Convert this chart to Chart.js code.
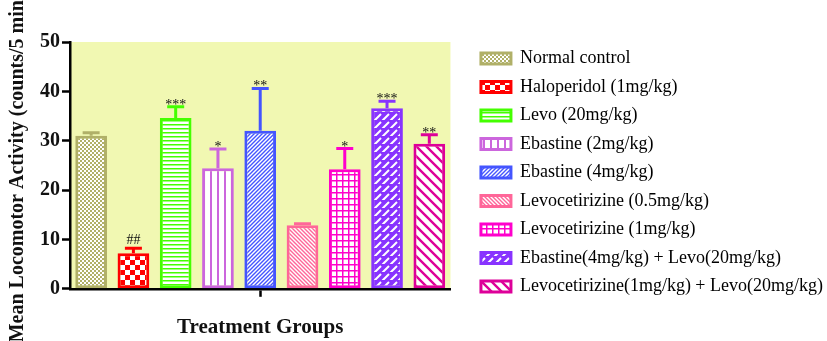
<!DOCTYPE html>
<html><head><meta charset="utf-8">
<script src="https://cdn.jsdelivr.net/npm/chart.js@4/dist/chart.umd.min.js"></script>
<style>html,body{margin:0;padding:0;background:#fff}#wrap{width:827px;height:341px;position:relative}</style>
</head><body><div id="wrap"><canvas id="c"></canvas></div>
<script>
const categories = ["Normal control","Haloperidol (1mg/kg)","Levo (20mg/kg)","Ebastine (2mg/kg)","Ebastine (4mg/kg)","Levocetirizine (0.5mg/kg)","Levocetirizine (1mg/kg)","Ebastine(4mg/kg) + Levo(20mg/kg)","Levocetirizine(1mg/kg) + Levo(20mg/kg)"];
const means = [31.0, 7.2, 34.6, 24.4, 32.0, 12.9, 24.2, 36.6, 29.4];
const sems = [0.6, 1.0, 2.3, 3.9, 8.6, 0.3, 4.2, 1.4, 1.8];
const marks = ["", "##", "***", "*", "**", "", "*", "***", "**"];
const yTicks = [0, 10, 20, 30, 40, 50];
const colors = ["#b0b068","#ff0000","#44ff00","#cc66dd","#4455ff","#ff6699","#ff00cc","#8833ff","#dd0099"];

function tile(w, h, draw){
  const c = document.createElement('canvas'); c.width = w; c.height = h;
  const g = c.getContext('2d'); g.fillStyle = '#fff'; g.fillRect(0,0,w,h); draw(g);
  return document.createElement('canvas').getContext('2d').createPattern(c, 'repeat');
}
const patterns = [
  tile(4,4,g=>{g.fillStyle=colors[0];g.fillRect(0,0,2,2);g.fillRect(2,2,2,2);}),
  tile(10,10,g=>{g.fillStyle=colors[1];g.fillRect(0,0,5,5);g.fillRect(5,5,5,5);}),
  tile(4,4,g=>{g.fillStyle=colors[2];g.fillRect(0,0,4,1.5);}),
  tile(7,4,g=>{g.fillStyle=colors[3];g.fillRect(0,0,2,4);}),
  tile(4,4,g=>{g.strokeStyle=colors[4];g.lineWidth=1.4;g.beginPath();g.moveTo(-1,5);g.lineTo(5,-1);g.moveTo(-1,1);g.lineTo(1,-1);g.moveTo(3,5);g.lineTo(5,3);g.stroke();}),
  tile(4,4,g=>{g.strokeStyle=colors[5];g.lineWidth=1.4;g.beginPath();g.moveTo(-1,-1);g.lineTo(5,5);g.moveTo(3,-1);g.lineTo(5,1);g.moveTo(-1,3);g.lineTo(1,5);g.stroke();}),
  tile(6,6,g=>{g.fillStyle=colors[6];g.fillRect(0,0,6,1.5);g.fillRect(0,0,1.5,6);}),
  tile(8,8,g=>{g.fillStyle=colors[7];g.fillRect(0,0,8,8);g.strokeStyle='#fff';g.lineWidth=2;g.beginPath();g.moveTo(1,6);g.lineTo(5,2);g.moveTo(5,10);g.lineTo(9,6);g.moveTo(-3,10);g.lineTo(1,6);g.stroke();}),
  tile(10,10,g=>{g.strokeStyle=colors[8];g.lineWidth=2.4;g.beginPath();g.moveTo(-1,-1);g.lineTo(11,11);g.moveTo(9,-1);g.lineTo(11,1);g.moveTo(-1,9);g.lineTo(1,11);g.stroke();})
];

const bgPlugin = {
  id:'bg',
  beforeDraw(chart){
    const {ctx, chartArea:a} = chart;
    ctx.save(); ctx.fillStyle = '#f1f8b2'; ctx.fillRect(a.left, a.top, a.right-a.left, a.bottom-a.top); ctx.restore();
  }
};
const errPlugin = {
  id:'err',
  afterDatasetsDraw(chart){
    const {ctx} = chart; const y = chart.scales.y;
    const meta = chart.getDatasetMeta(0);
    ctx.save();
    meta.data.forEach((bar, i) => {
      const top = y.getPixelForValue(means[i] + sems[i]);
      ctx.strokeStyle = colors[i]; ctx.lineWidth = 3;
      ctx.beginPath(); ctx.moveTo(bar.x, bar.y); ctx.lineTo(bar.x, top);
      ctx.moveTo(bar.x - 8.5, top); ctx.lineTo(bar.x + 8.5, top); ctx.stroke();
      if (marks[i]) {
        ctx.fillStyle = '#111'; ctx.font = '14px "Liberation Serif"';
        ctx.textAlign = 'center'; ctx.textBaseline = 'alphabetic';
        ctx.fillText(marks[i], bar.x, top - (marks[i][0]==='#' ? 4 : -2));
      }
    });
    ctx.restore();
  }
};

new Chart(document.getElementById('c'), {
  type:'bar',
  data:{ labels: categories, datasets:[{ data: means, backgroundColor: patterns, borderColor: colors, borderWidth: 3, borderSkipped: false, barPercentage: 0.75, categoryPercentage: 1 }]},
  options:{
    responsive:true, maintainAspectRatio:false, animation:false,
    layout:{ padding:{ top: 39, right: -6, left: 6, bottom: 1 } },
    plugins:{
      tooltip:{enabled:false},
      legend:{
        position:'right', align:'start', maxWidth: 420,
        labels:{
          font:{family:'"Liberation Serif"', size:18}, color:'#111',
          boxWidth:30, boxHeight:11, padding:10.5,
          generateLabels(chart){
            return categories.map((t,i)=>({text:t, fillStyle:patterns[i], strokeStyle:colors[i], lineWidth:3, index:i, datasetIndex:0}));
          }
        }
      }
    },
    scales:{
      x:{
        grid:{ display:true, drawOnChartArea:false, offset:false, drawTicks:true, tickLength:8, tickWidth:2.5,
               tickColor: c => c.index === 4 ? '#000' : 'rgba(0,0,0,0)' },
        border:{ display:true, color:'#000', width:2.5 },
        ticks:{ display:false },
        title:{ display:true, text:'Treatment Groups', color:'#111', font:{family:'"Liberation Serif"', size:21, weight:'bold'}, padding:{top:18, bottom:0} }
      },
      x2:{
        position:'top', display:true, grid:{display:false, drawTicks:false}, border:{display:false}, ticks:{display:false},
        afterFit(s){ s.height = 3; }
      },
      y:{
        min:0, max:50,
        afterBuildTicks(s){ s.ticks = yTicks.map(v=>({value:v})); },
        grid:{ display:true, drawOnChartArea:false, drawTicks:true, tickLength:8, tickWidth:2.5, tickColor:'#000' },
        border:{ display:true, color:'#000', width:2.5 },
        ticks:{ color:'#111', font:{family:'"Liberation Serif"', size:20, weight:'bold'}, padding:2 },
        title:{ display:true, text:'Mean Locomotor Activity (counts/5 min.)', color:'#111', font:{family:'"Liberation Serif"', size:20, weight:'bold'}, padding:{top:0,bottom:8} }
      },
      y2:{
        position:'right', display:true, grid:{display:false, drawTicks:false}, border:{display:false}, ticks:{display:false},
        afterFit(s){ s.width = 20; }
      }
    }
  },
  plugins:[bgPlugin, errPlugin]
});
</script></body></html>
